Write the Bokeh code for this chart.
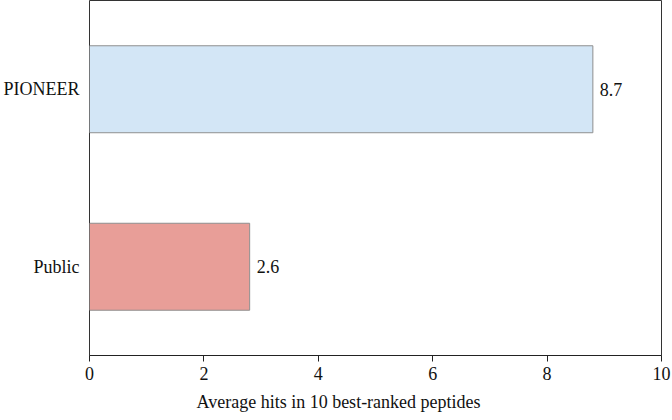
from bokeh.plotting import figure
from bokeh.models import ColumnDataSource, FactorRange, Range1d, FixedTicker, Title
from bokeh.embed import file_html
from bokeh.resources import INLINE
from bokeh.core.properties import value

categories = ["Public", "PIONEER"]
bar_values = [2.8, 8.8]
value_labels = ["2.6", "8.7"]
fill_colors = ["#E89E98", "#D3E6F6"]
x_ticks = [0, 2, 4, 6, 8, 10]
x_title = "Average hits in 10 best-ranked peptides"

FONT = "Liberation Serif"

src = ColumnDataSource(dict(cat=categories, val=bar_values, lab=value_labels, col=fill_colors))

p = figure(width=672, height=420, output_backend="svg", toolbar_location=None,
           y_range=FactorRange(*categories), x_range=Range1d(0, 10),
           min_border=0, min_border_left=89, min_border_right=11, min_border_top=0,
           min_border_bottom=65, title=None)

p.hbar(y="cat", right="val", left=0, height=0.49, fill_color="col",
       line_color="#8f8f8f", line_width=1, source=src)
p.text(x="val", y="cat", text="lab", x_offset=7, text_baseline="middle", text_align="left",
       text_font=value(FONT), text_font_size="18px", text_color="#111", source=src)

p.grid.visible = False
p.outline_line_color = "#333333"
p.outline_line_width = 1

xa = p.xaxis[0]
xa.ticker = FixedTicker(ticks=x_ticks)
xa.major_label_text_font = FONT
xa.major_label_text_font_size = "18px"
xa.major_label_text_color = "#111"
xa.axis_line_color = "#222"
xa.major_tick_line_color = "#222"
xa.major_tick_out = 6
xa.major_tick_in = 0
xa.minor_tick_line_color = None
xa.major_label_standoff = 5

# axis title below the axis, shifted left as in the reference
p.add_layout(Title(text=x_title, align="left", offset=107, standoff=14,
                   text_font=FONT, text_font_size="18px", text_font_style="normal",
                   text_color="#111"), "below")

ya = p.yaxis[0]
ya.axis_line_color = None
ya.major_tick_line_color = None
ya.minor_tick_line_color = None
ya.major_label_text_font = FONT
ya.major_label_text_font_size = "18px"
ya.major_label_text_color = "#111"
ya.major_label_standoff = 4

open("out.html", "w").write(file_html(p, INLINE))
